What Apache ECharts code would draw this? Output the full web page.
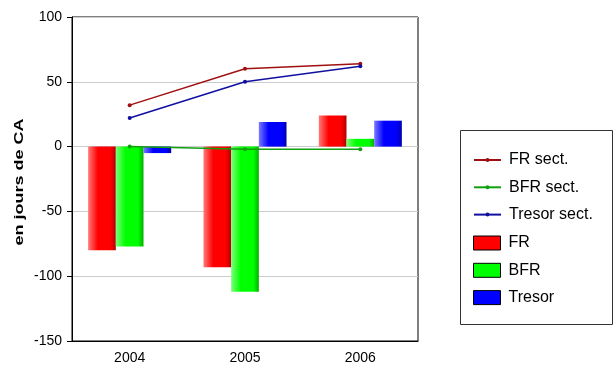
<!DOCTYPE html>
<html>
<head>
<meta charset="utf-8">
<script src="https://cdn.jsdelivr.net/npm/echarts@6/dist/echarts.min.js"></script>
<style>
  html, body { margin: 0; padding: 0; background: #fff; }
  #chart { width: 614px; height: 367px; }
</style>
</head>
<body>
<div id="chart"></div>
<script>
// Years on the category axis
const years = ['2004', '2005', '2006'];

// Sector reference lines (days of turnover)
const frSect = [32, 60, 64];
const bfrSect = [0, -2, -2];
const tresorSect = [22, 50, 62];

// Company bars (days of turnover)
const fr = [-80, -93, 24];
const bfr = [-77, -112, 6];
const tresor = [-5, 19, 20];

// Y axis range
const yMin = -150, yMax = 100, yStep = 50;

const FONT = '"Liberation Sans", Arial, sans-serif';

function shade(light, base, dark) {
  return new echarts.graphic.LinearGradient(0, 0, 1, 0, [
    { offset: 0, color: light },
    { offset: 0.35, color: base },
    { offset: 0.8, color: base },
    { offset: 1, color: dark }
  ]);
}

function barSeries(name, data, grad) {
  return {
    name, type: 'bar', data,
    barGap: '0%', barCategoryGap: '28%',
    itemStyle: { color: grad },
    z: 2
  };
}

function lineSeries(name, data, color) {
  return {
    name, type: 'line', data,
    symbol: 'circle', symbolSize: 4,
    lineStyle: { color, width: 1.5 },
    itemStyle: { color },
    z: 5
  };
}

const legendText = { color: '#000', fontFamily: FONT, fontSize: 16, padding: [0, 0, 0, 3] };

const chart = echarts.init(document.getElementById('chart'), null, { renderer: 'canvas' });

chart.setOption({
  animation: false,
  backgroundColor: '#fff',
  grid: {
    left: 72, right: 196, top: 17, bottom: 26,
    show: true, borderColor: '#000', borderWidth: 1, backgroundColor: 'transparent'
  },
  xAxis: {
    type: 'category',
    data: years,
    axisLine: { onZero: false, lineStyle: { color: '#000', width: 1 } },
    axisTick: { alignWithLabel: true, length: 5, lineStyle: { color: '#000' } },
    axisLabel: { color: '#000', fontFamily: FONT, fontSize: 14, margin: 10 },
    splitLine: { show: false }
  },
  yAxis: {
    type: 'value',
    min: yMin, max: yMax, interval: yStep,
    axisLine: { show: true, lineStyle: { color: '#000', width: 1 } },
    axisTick: { show: true, length: 5, lineStyle: { color: '#000' } },
    axisLabel: { color: '#000', fontFamily: FONT, fontSize: 14, margin: 10 },
    splitLine: { show: true, lineStyle: { color: '#cccccc', width: 1 } }
  },
  legend: [
    {
      orient: 'vertical',
      left: 468, top: 147,
      itemWidth: 27, itemHeight: 5, itemGap: 11.3,
      textStyle: legendText,
      data: ['FR sect.', 'BFR sect.', 'Tresor sect.']
    },
    {
      orient: 'vertical',
      left: 468, top: 230,
      itemWidth: 27, itemHeight: 14, itemGap: 11.3,
      textStyle: legendText,
      data: [
        { name: 'FR', icon: 'rect', itemStyle: { color: '#ff0000', borderColor: '#000', borderWidth: 1 } },
        { name: 'BFR', icon: 'rect', itemStyle: { color: '#00ff00', borderColor: '#000', borderWidth: 1 } },
        { name: 'Tresor', icon: 'rect', itemStyle: { color: '#0000ff', borderColor: '#000', borderWidth: 1 } }
      ]
    }
  ],
  graphic: [
    {
      // legend frame
      type: 'rect',
      shape: { x: 460.5, y: 130.5, width: 152, height: 194 },
      style: { fill: 'none', stroke: '#333', lineWidth: 1 },
      silent: true
    },
    {
      // y axis title
      type: 'text',
      x: 19.5, y: 182,
      rotation: Math.PI / 2,
      scaleX: 1.5,
      style: {
        text: 'en jours de CA',
        font: 'bold 12px ' + FONT,
        fill: '#000',
        align: 'center',
        verticalAlign: 'middle'
      },
      silent: true
    }
  ],
  series: [
    barSeries('FR', fr, shade('#ff7a7a', '#ff0000', '#b00000')),
    barSeries('BFR', bfr, shade('#7aff7a', '#00ff00', '#00b000')),
    barSeries('Tresor', tresor, shade('#7a7aff', '#0000ff', '#0000b0')),
    lineSeries('FR sect.', frSect, '#a01010'),
    lineSeries('BFR sect.', bfrSect, '#10a010'),
    lineSeries('Tresor sect.', tresorSect, '#1010a0')
  ]
});
</script>
</body>
</html>
